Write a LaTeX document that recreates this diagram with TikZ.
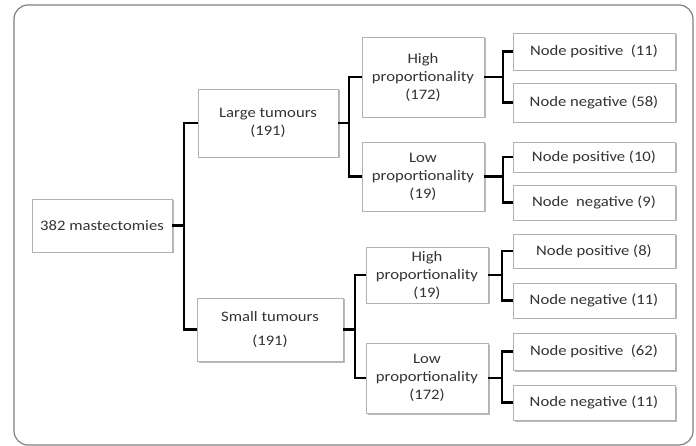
\documentclass[tikz,border=0pt]{standalone}
\usepackage{fontspec}
\setmainfont{Carlito}[FakeStretch=1.15]
\usepackage{tikz}
\usetikzlibrary{shadows}

\begin{document}
\begin{tikzpicture}[x=1pt,y=-1pt,line join=miter]
  \tikzstyle{box}=[rectangle,draw=black!30,fill=white,text=black!80,
  		   align=center,inner sep=0pt,
  		   font=\fontsize{14.5}{18}\selectfont,
  		   drop shadow={shadow xshift=1.5pt,shadow yshift=-1.5pt,
  		   		opacity=0.45,fill=black!60}]
  \tikzstyle{leaf}=[box,minimum width=162pt]
  \tikzstyle{mid}=[box,minimum width=122pt]
  \tikzstyle{link}=[draw=black,line width=2.6pt]
  \useasboundingbox (0,0) rectangle (696,446);
  % frame
  \draw[black!50,line width=1.2pt,rounded corners=14pt] (14,5) rectangle (693,445);
  % first split
  \node [box,minimum width=140pt,minimum height=53pt] (all) at (102,225.5) {382 mastectomies};
  \node [box,minimum width=140pt,minimum height=68pt] (large) at (268,123) {Large tumours\\(191)};
  \node [box,minimum width=146pt,minimum height=63pt] (small) at (270,329.5) {Small tumours\\[6pt](191)};
  % second split
  \node [mid,minimum height=80pt] (hiL) at (423,77) {High\\proportionality\\(172)};
  \node [mid,minimum height=69pt] (loL) at (423,176.5) {Low\\proportionality\\(19)};
  \node [mid,minimum height=56pt] (hiS) at (427,275) {High\\proportionality\\(19)};
  \node [mid,minimum height=70pt] (loS) at (427,378) {Low\\proportionality\\(172)};
  % leaves
  \node [leaf,minimum height=37pt] (posA) at (594,51.5) {Node positive\ \ (11)};
  \node [leaf,minimum height=39pt] (negA) at (594,102.5) {Node negative (58)};
  \node [leaf,minimum height=30pt] (posB) at (594,157) {Node positive (10)};
  \node [leaf,minimum height=35pt] (negB) at (594,202.5) {Node \ negative (9)};
  \node [leaf,minimum height=34pt] (posC) at (594,251) {Node positive (8)};
  \node [leaf,minimum height=35pt] (negC) at (594,300.5) {Node negative (11)};
  \node [leaf,minimum height=37pt] (posD) at (594,351.5) {Node positive\ \ (62)};
  \node [leaf,minimum height=35pt] (negD) at (594,402.5) {Node negative (11)};
  % branch points
  \coordinate (j0) at (184,225.5);
  \coordinate (j1) at (349,123);
  \coordinate (j2) at (355,329.5);
  \coordinate (j3) at (503,77);
  \coordinate (j4) at (503,176.5);
  \coordinate (j5) at (502,275);
  \coordinate (j6) at (502,378);
  % connectors
  \draw [link] (all.east) -- (j0) (large.west) -| (j0) |- (small.west);
  \draw [link] (large.east) -- (j1) (hiL.west) -| (j1) |- (loL.west);
  \draw [link] (small.east) -- (j2) (hiS.west) -| (j2) |- (loS.west);
  \draw [link] (hiL.east) -- (j3) (posA.west) -| (j3) |- (negA.west);
  \draw [link] (loL.east) -- (j4) (posB.west) -| (j4) |- (negB.west);
  \draw [link] (hiS.east) -- (j5) (posC.west) -| (j5) |- (negC.west);
  \draw [link] (loS.east) -- (j6) (posD.west) -| (j6) |- (negD.west);
\end{tikzpicture}
\end{document}
